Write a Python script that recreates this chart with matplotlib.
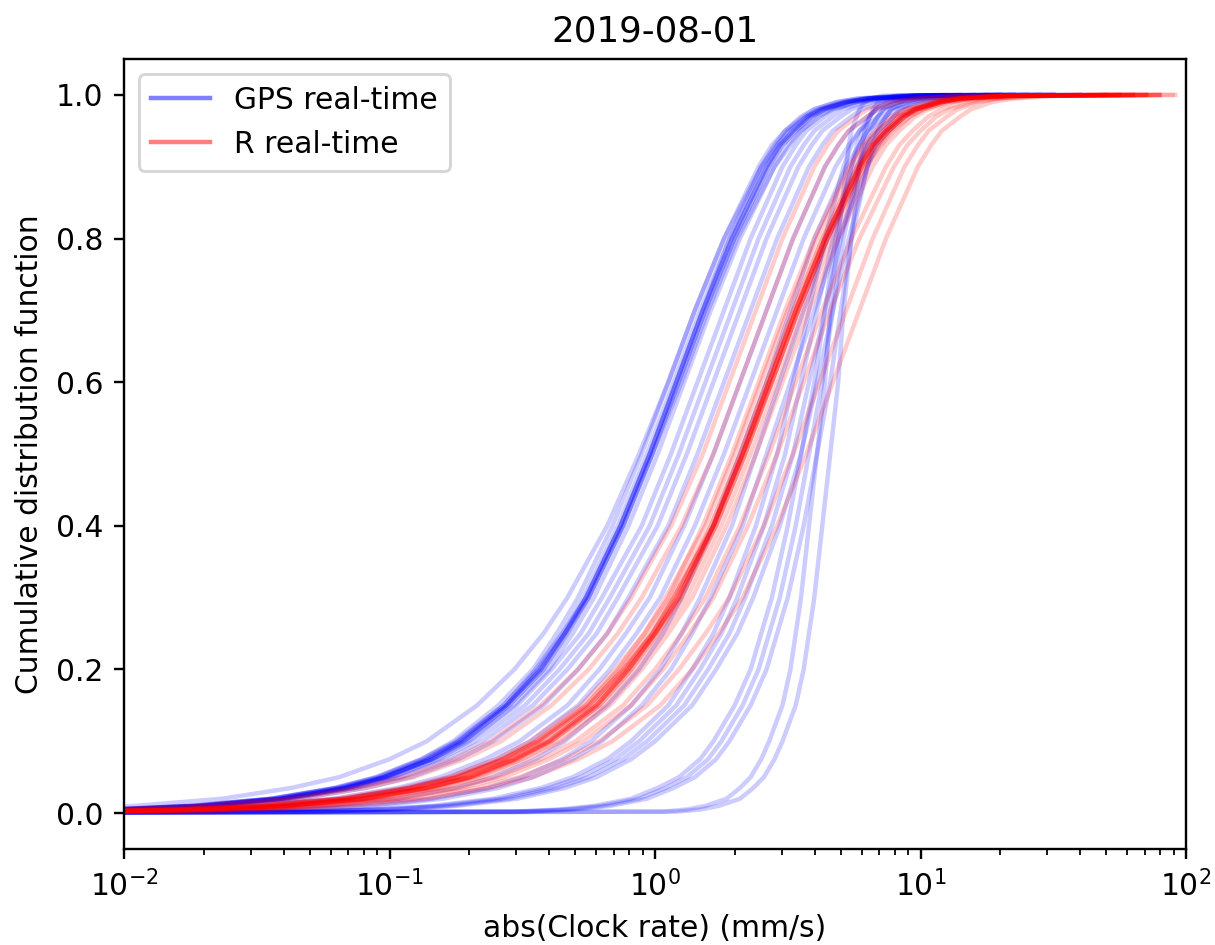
import numpy as np
import matplotlib
matplotlib.use('Agg')
import matplotlib.pyplot as plt
from matplotlib.lines import Line2D

cdf_levels = [0.0, 0.002, 0.005, 0.01, 0.02, 0.035, 0.05, 0.075, 0.1, 0.15, 0.2, 0.25, 0.3,
              0.4, 0.5, 0.6, 0.7, 0.8, 0.9, 0.93, 0.95, 0.97, 0.98, 0.99, 0.995, 0.999, 1.0]

# log10(abs clock rate [mm/s]) reached at each CDF level, one row per satellite
gps_log10_rate = [
    [-3, -2.73, -2.29, -1.96, -1.63, -1.37, -1.19, -1.00, -0.86, -0.67, -0.53, -0.42, -0.33, -0.18, -0.06, 0.05, 0.15, 0.26, 0.40, 0.46, 0.50, 0.57, 0.62, 0.71, 0.80, 0.99, 1.30],
    [-3, -2.41, -2.02, -1.73, -1.44, -1.20, -1.05, -0.88, -0.76, -0.59, -0.46, -0.37, -0.29, -0.16, -0.05, 0.05, 0.15, 0.26, 0.39, 0.44, 0.49, 0.55, 0.60, 0.69, 0.77, 0.95, 1.15],
    [-3, -2.39, -2.00, -1.71, -1.42, -1.18, -1.03, -0.86, -0.74, -0.57, -0.44, -0.35, -0.27, -0.14, -0.03, 0.07, 0.17, 0.28, 0.41, 0.46, 0.51, 0.57, 0.62, 0.71, 0.79, 0.97, 1.40],
    [-3, -2.38, -1.99, -1.70, -1.41, -1.17, -1.02, -0.85, -0.73, -0.56, -0.43, -0.34, -0.26, -0.13, -0.02, 0.08, 0.18, 0.29, 0.42, 0.47, 0.52, 0.58, 0.63, 0.72, 0.80, 0.98, 1.25],
    [-3, -2.38, -1.99, -1.70, -1.41, -1.17, -1.02, -0.85, -0.73, -0.56, -0.43, -0.34, -0.26, -0.13, -0.02, 0.08, 0.18, 0.29, 0.42, 0.47, 0.52, 0.58, 0.63, 0.72, 0.80, 0.98, 1.35],
    [-3, -2.45, -2.05, -1.75, -1.45, -1.21, -1.05, -0.88, -0.75, -0.57, -0.45, -0.35, -0.26, -0.13, -0.02, 0.08, 0.18, 0.28, 0.40, 0.45, 0.49, 0.56, 0.60, 0.68, 0.76, 0.93, 1.50],
    [-3, -2.37, -1.98, -1.69, -1.40, -1.16, -1.01, -0.84, -0.72, -0.55, -0.42, -0.33, -0.25, -0.12, -0.01, 0.09, 0.19, 0.30, 0.43, 0.48, 0.53, 0.59, 0.64, 0.73, 0.81, 0.99, 1.30],
    [-3, -2.37, -1.98, -1.69, -1.40, -1.16, -1.01, -0.84, -0.72, -0.55, -0.42, -0.33, -0.25, -0.12, -0.01, 0.09, 0.19, 0.30, 0.43, 0.48, 0.53, 0.59, 0.64, 0.73, 0.81, 0.99, 1.20],
    [-3, -2.44, -2.04, -1.74, -1.44, -1.20, -1.04, -0.87, -0.74, -0.56, -0.44, -0.34, -0.25, -0.12, -0.01, 0.10, 0.20, 0.31, 0.45, 0.51, 0.55, 0.62, 0.67, 0.76, 0.85, 1.04, 1.35],
    [-3, -2.35, -1.96, -1.67, -1.38, -1.14, -0.99, -0.82, -0.70, -0.53, -0.40, -0.31, -0.23, -0.10, 0.01, 0.11, 0.21, 0.32, 0.45, 0.50, 0.55, 0.61, 0.66, 0.75, 0.83, 1.01, 1.45],
    [-3, -2.49, -2.07, -1.76, -1.44, -1.19, -1.02, -0.84, -0.71, -0.52, -0.39, -0.28, -0.20, -0.05, 0.06, 0.16, 0.26, 0.36, 0.48, 0.53, 0.57, 0.64, 0.68, 0.76, 0.84, 1.01, 1.35],
    [-3, -2.46, -2.04, -1.73, -1.41, -1.16, -0.99, -0.81, -0.68, -0.49, -0.36, -0.25, -0.17, -0.02, 0.09, 0.19, 0.29, 0.39, 0.51, 0.56, 0.60, 0.67, 0.71, 0.79, 0.87, 1.04, 1.45],
    [-3, -2.43, -2.01, -1.70, -1.38, -1.13, -0.96, -0.78, -0.65, -0.46, -0.33, -0.22, -0.14, 0.01, 0.12, 0.22, 0.32, 0.42, 0.54, 0.59, 0.63, 0.70, 0.74, 0.82, 0.90, 1.07, 1.35],
    [-3, -2.39, -1.97, -1.66, -1.34, -1.09, -0.92, -0.74, -0.61, -0.42, -0.29, -0.18, -0.10, 0.05, 0.16, 0.26, 0.36, 0.46, 0.58, 0.63, 0.67, 0.74, 0.78, 0.86, 0.94, 1.11, 1.50],
    [-3, -2.21, -1.81, -1.51, -1.21, -0.97, -0.81, -0.64, -0.51, -0.33, -0.21, -0.11, -0.02, 0.11, 0.22, 0.32, 0.42, 0.52, 0.64, 0.69, 0.73, 0.80, 0.84, 0.92, 1.00, 1.17, 1.40],
    [-3, -2.17, -1.77, -1.47, -1.17, -0.93, -0.77, -0.60, -0.47, -0.29, -0.17, -0.07, 0.02, 0.15, 0.26, 0.36, 0.46, 0.56, 0.68, 0.73, 0.77, 0.84, 0.88, 0.96, 1.04, 1.21, 1.55],
    [-3, -1.87, -1.51, -1.24, -0.97, -0.75, -0.61, -0.45, -0.34, -0.18, -0.06, 0.03, 0.10, 0.22, 0.32, 0.42, 0.51, 0.60, 0.72, 0.77, 0.80, 0.87, 0.91, 0.99, 1.06, 1.22, 1.60],
    [-3, -1.69, -1.35, -1.09, -0.84, -0.63, -0.50, -0.35, -0.24, -0.09, 0.02, 0.10, 0.17, 0.29, 0.38, 0.47, 0.56, 0.65, 0.76, 0.80, 0.84, 0.90, 0.94, 1.01, 1.08, 1.24, 1.50],
    [-3, -1.65, -1.31, -1.05, -0.80, -0.59, -0.46, -0.31, -0.20, -0.05, 0.06, 0.14, 0.21, 0.33, 0.42, 0.51, 0.60, 0.69, 0.80, 0.84, 0.88, 0.94, 0.98, 1.05, 1.12, 1.28, 1.60],
    [-3, -1.36, -1.06, -0.84, -0.61, -0.43, -0.31, -0.18, -0.09, 0.05, 0.14, 0.22, 0.28, 0.38, 0.46, 0.52, 0.58, 0.64, 0.71, 0.74, 0.77, 0.81, 0.83, 0.88, 0.93, 1.03, 1.40],
    [-3, -1.33, -1.03, -0.81, -0.58, -0.40, -0.28, -0.15, -0.06, 0.08, 0.17, 0.25, 0.31, 0.41, 0.49, 0.55, 0.61, 0.67, 0.74, 0.77, 0.80, 0.84, 0.86, 0.91, 0.96, 1.06, 1.50],
    [-3, -1.30, -1.00, -0.78, -0.55, -0.37, -0.25, -0.12, -0.03, 0.11, 0.20, 0.28, 0.34, 0.44, 0.52, 0.58, 0.64, 0.70, 0.77, 0.80, 0.83, 0.87, 0.89, 0.94, 0.99, 1.09, 1.30],
    [-3, -1.27, -0.97, -0.75, -0.52, -0.34, -0.22, -0.09, 0.00, 0.14, 0.23, 0.31, 0.37, 0.47, 0.55, 0.61, 0.67, 0.73, 0.80, 0.83, 0.86, 0.90, 0.92, 0.97, 1.02, 1.12, 1.45],
    [-3, -0.54, -0.36, -0.23, -0.09, 0.01, 0.09, 0.17, 0.22, 0.30, 0.36, 0.40, 0.44, 0.50, 0.55, 0.60, 0.64, 0.68, 0.74, 0.76, 0.78, 0.81, 0.83, 0.87, 0.90, 0.98, 1.20],
    [-3, -0.51, -0.33, -0.20, -0.06, 0.04, 0.12, 0.20, 0.25, 0.33, 0.39, 0.43, 0.47, 0.53, 0.58, 0.63, 0.67, 0.71, 0.77, 0.79, 0.81, 0.84, 0.86, 0.90, 0.93, 1.01, 1.30],
    [-3, -0.48, -0.30, -0.17, -0.03, 0.07, 0.15, 0.23, 0.28, 0.36, 0.42, 0.46, 0.50, 0.56, 0.61, 0.66, 0.70, 0.74, 0.80, 0.82, 0.84, 0.87, 0.89, 0.93, 0.96, 1.04, 1.25],
    [-3, 0.03, 0.12, 0.19, 0.27, 0.32, 0.36, 0.40, 0.43, 0.48, 0.51, 0.53, 0.55, 0.58, 0.61, 0.64, 0.66, 0.69, 0.72, 0.73, 0.74, 0.76, 0.77, 0.79, 0.81, 0.86, 1.10],
    [-3, 0.08, 0.17, 0.24, 0.32, 0.37, 0.41, 0.45, 0.48, 0.53, 0.56, 0.58, 0.60, 0.63, 0.66, 0.69, 0.71, 0.74, 0.77, 0.78, 0.79, 0.81, 0.82, 0.84, 0.86, 0.91, 1.15],
]

r_log10_rate = [
    [-3, -2.49, -2.05, -1.72, -1.39, -1.13, -0.95, -0.76, -0.62, -0.43, -0.29, -0.18, -0.09, 0.06, 0.18, 0.28, 0.38, 0.48, 0.60, 0.65, 0.69, 0.76, 0.80, 0.88, 0.96, 1.13, 1.50],
    [-3, -2.45, -2.01, -1.68, -1.35, -1.09, -0.91, -0.72, -0.58, -0.39, -0.25, -0.14, -0.05, 0.10, 0.22, 0.32, 0.42, 0.52, 0.64, 0.69, 0.73, 0.80, 0.84, 0.92, 1.00, 1.17, 1.60],
    [-3, -2.14, -1.74, -1.44, -1.14, -0.90, -0.74, -0.57, -0.44, -0.26, -0.14, -0.04, 0.05, 0.18, 0.29, 0.39, 0.49, 0.60, 0.73, 0.78, 0.83, 0.89, 0.94, 1.03, 1.11, 1.29, 1.70],
    [-3, -2.25, -1.83, -1.52, -1.20, -0.95, -0.78, -0.60, -0.47, -0.28, -0.15, -0.04, 0.04, 0.19, 0.30, 0.40, 0.50, 0.61, 0.74, 0.79, 0.84, 0.90, 0.95, 1.04, 1.12, 1.30, 1.80],
    [-3, -2.11, -1.71, -1.41, -1.11, -0.87, -0.71, -0.54, -0.41, -0.23, -0.11, -0.01, 0.08, 0.21, 0.32, 0.42, 0.52, 0.63, 0.76, 0.81, 0.86, 0.92, 0.97, 1.06, 1.14, 1.32, 1.85],
    [-3, -2.23, -1.81, -1.50, -1.18, -0.93, -0.76, -0.58, -0.45, -0.26, -0.13, -0.02, 0.06, 0.21, 0.32, 0.42, 0.52, 0.63, 0.76, 0.81, 0.86, 0.92, 0.97, 1.06, 1.14, 1.32, 1.75],
    [-3, -2.10, -1.70, -1.40, -1.10, -0.86, -0.70, -0.53, -0.40, -0.22, -0.10, 0.00, 0.09, 0.22, 0.33, 0.43, 0.53, 0.64, 0.77, 0.82, 0.87, 0.93, 0.98, 1.07, 1.15, 1.33, 1.75],
    [-3, -2.10, -1.70, -1.40, -1.10, -0.86, -0.70, -0.53, -0.40, -0.22, -0.10, 0.00, 0.09, 0.22, 0.33, 0.43, 0.53, 0.64, 0.77, 0.82, 0.87, 0.93, 0.98, 1.07, 1.15, 1.33, 1.85],
    [-3, -2.22, -1.80, -1.49, -1.17, -0.92, -0.75, -0.57, -0.44, -0.25, -0.12, -0.01, 0.07, 0.22, 0.33, 0.43, 0.53, 0.64, 0.77, 0.82, 0.87, 0.93, 0.98, 1.07, 1.15, 1.33, 1.90],
    [-3, -2.22, -1.80, -1.49, -1.17, -0.92, -0.75, -0.57, -0.44, -0.25, -0.12, -0.01, 0.07, 0.22, 0.33, 0.43, 0.53, 0.64, 0.77, 0.82, 0.87, 0.93, 0.98, 1.07, 1.15, 1.33, 1.80],
    [-3, -2.10, -1.70, -1.40, -1.10, -0.86, -0.70, -0.53, -0.40, -0.22, -0.10, 0.00, 0.09, 0.22, 0.33, 0.44, 0.54, 0.65, 0.79, 0.85, 0.89, 0.96, 1.01, 1.10, 1.19, 1.38, 1.65],
    [-3, -2.09, -1.69, -1.39, -1.09, -0.85, -0.69, -0.52, -0.39, -0.21, -0.09, 0.01, 0.10, 0.23, 0.34, 0.44, 0.54, 0.65, 0.78, 0.83, 0.88, 0.94, 0.99, 1.08, 1.16, 1.34, 1.95],
    [-3, -2.09, -1.69, -1.39, -1.09, -0.85, -0.69, -0.52, -0.39, -0.21, -0.09, 0.01, 0.10, 0.23, 0.34, 0.44, 0.54, 0.65, 0.78, 0.83, 0.88, 0.94, 0.99, 1.08, 1.16, 1.34, 1.75],
    [-3, -2.21, -1.79, -1.48, -1.16, -0.91, -0.74, -0.56, -0.43, -0.24, -0.11, 0.00, 0.08, 0.23, 0.34, 0.44, 0.54, 0.65, 0.78, 0.83, 0.88, 0.94, 0.99, 1.08, 1.16, 1.34, 1.70],
    [-3, -2.07, -1.67, -1.37, -1.07, -0.83, -0.67, -0.50, -0.37, -0.19, -0.07, 0.03, 0.12, 0.25, 0.36, 0.46, 0.56, 0.67, 0.80, 0.85, 0.90, 0.96, 1.01, 1.10, 1.18, 1.36, 1.70],
    [-3, -2.05, -1.65, -1.35, -1.05, -0.81, -0.65, -0.48, -0.35, -0.17, -0.05, 0.05, 0.14, 0.27, 0.38, 0.48, 0.58, 0.69, 0.82, 0.87, 0.92, 0.98, 1.03, 1.12, 1.20, 1.38, 1.90],
    [-3, -2.00, -1.60, -1.30, -1.00, -0.76, -0.60, -0.43, -0.30, -0.12, 0.00, 0.10, 0.19, 0.32, 0.43, 0.53, 0.63, 0.74, 0.87, 0.92, 0.97, 1.03, 1.08, 1.17, 1.25, 1.43, 1.85],
    [-3, -1.97, -1.57, -1.27, -0.97, -0.73, -0.57, -0.40, -0.27, -0.09, 0.03, 0.13, 0.22, 0.35, 0.46, 0.56, 0.66, 0.77, 0.90, 0.95, 1.00, 1.06, 1.11, 1.20, 1.28, 1.46, 1.90],
    [-3, -1.91, -1.51, -1.21, -0.91, -0.67, -0.51, -0.34, -0.21, -0.03, 0.09, 0.19, 0.28, 0.41, 0.52, 0.62, 0.72, 0.82, 0.94, 0.99, 1.03, 1.10, 1.14, 1.22, 1.30, 1.47, 1.80],
    [-3, -1.86, -1.46, -1.16, -0.86, -0.62, -0.46, -0.29, -0.16, 0.02, 0.14, 0.24, 0.33, 0.46, 0.57, 0.67, 0.77, 0.87, 0.99, 1.04, 1.08, 1.15, 1.19, 1.27, 1.35, 1.52, 1.96],
]

W, H, DPI = 1215, 945, 214
fig = plt.figure(figsize=(W / DPI, H / DPI), dpi=DPI)
ax = fig.add_axes([124 / W, 1 - 849 / H, 1062 / W, 790 / H])

for row in gps_log10_rate:
    ax.plot(10 ** np.array(row), cdf_levels, color='b', alpha=0.2, lw=1.5)
for row in r_log10_rate:
    ax.plot(10 ** np.array(row), cdf_levels, color='r', alpha=0.2, lw=1.5)

ax.set_xscale('log')
ax.set_xlim(1e-2, 1e2)
ax.set_ylim(-0.05, 1.05)
ax.set_xlabel('abs(Clock rate) (mm/s)')
ax.set_ylabel('Cumulative distribution function')
ax.set_title('2019-08-01')

handles = [Line2D([], [], color='b', alpha=0.5, lw=1.5),
           Line2D([], [], color='r', alpha=0.5, lw=1.5)]
ax.legend(handles, ['GPS real-time', 'R real-time'], loc='upper left')

fig.savefig('out.png', dpi=DPI)
